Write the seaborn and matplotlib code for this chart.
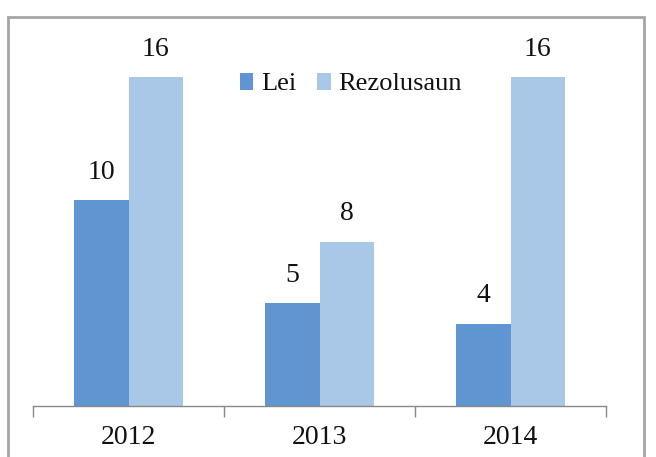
import numpy as np
import pandas as pd
import matplotlib.pyplot as plt
import seaborn as sns
from matplotlib.patches import Rectangle

anos = ['2012', '2013', '2014']
lei = [10, 5, 4]
rezolusaun = [16, 8, 16]
series = ['Lei', 'Rezolusaun']
cores = ['#5f95d0', '#a9c7e7']

dados = pd.DataFrame({
    'ano': anos * 2,
    'valor': lei + rezolusaun,
    'tipo': ['Lei'] * len(anos) + ['Rezolusaun'] * len(anos),
})

sns.set_style('white')
plt.rcParams['font.family'] = ['Liberation Serif', 'DejaVu Serif']

fig = plt.figure(figsize=(6.56, 4.57), dpi=100)
ax = fig.add_axes([33 / 656, 51 / 457, 573 / 656, 370 / 457])

sns.barplot(data=dados, x='ano', y='valor', hue='tipo', hue_order=series,
            palette=cores, width=0.57, saturation=1, linewidth=0, ax=ax, legend=True)

for cont in ax.containers:
    ax.bar_label(cont, labels=[f'{int(v)}' for v in cont.datavalues],
                 padding=11, fontsize=20, color='#111111')

ax.set_ylim(0, 18)
ax.set_xlim(-0.5, 2.5)
ax.set_xlabel('')
ax.set_ylabel('')
ax.set_yticks([])
ax.set_xticks([0, 1, 2])
ax.set_xticklabels(anos, fontsize=20, color='#111111')
ax.set_xticks([-0.5, 0.5, 1.5, 2.5], minor=True)
ax.tick_params(axis='x', which='major', length=0, pad=14)
ax.tick_params(axis='x', which='minor', length=8, width=1, color='#888888', bottom=True)
for lado in ['top', 'right', 'left']:
    ax.spines[lado].set_visible(False)
ax.spines['bottom'].set_color('#888888')
ax.spines['bottom'].set_linewidth(1)

leg = ax.legend(loc='center', bbox_to_anchor=(0.555, 0.87), ncol=2, frameon=False,
                fontsize=19, handlelength=0.5, handleheight=0.6, handletextpad=0.3,
                columnspacing=0.8)
for t in leg.get_texts():
    t.set_color('#111111')

fig.patches.append(Rectangle((8 / 656, -0.02), 636 / 656, (457 - 17) / 457 + 0.02,
                             transform=fig.transFigure, fill=False,
                             edgecolor='#a6a6a6', linewidth=2, zorder=0))

fig.savefig('out.png', dpi=100)
